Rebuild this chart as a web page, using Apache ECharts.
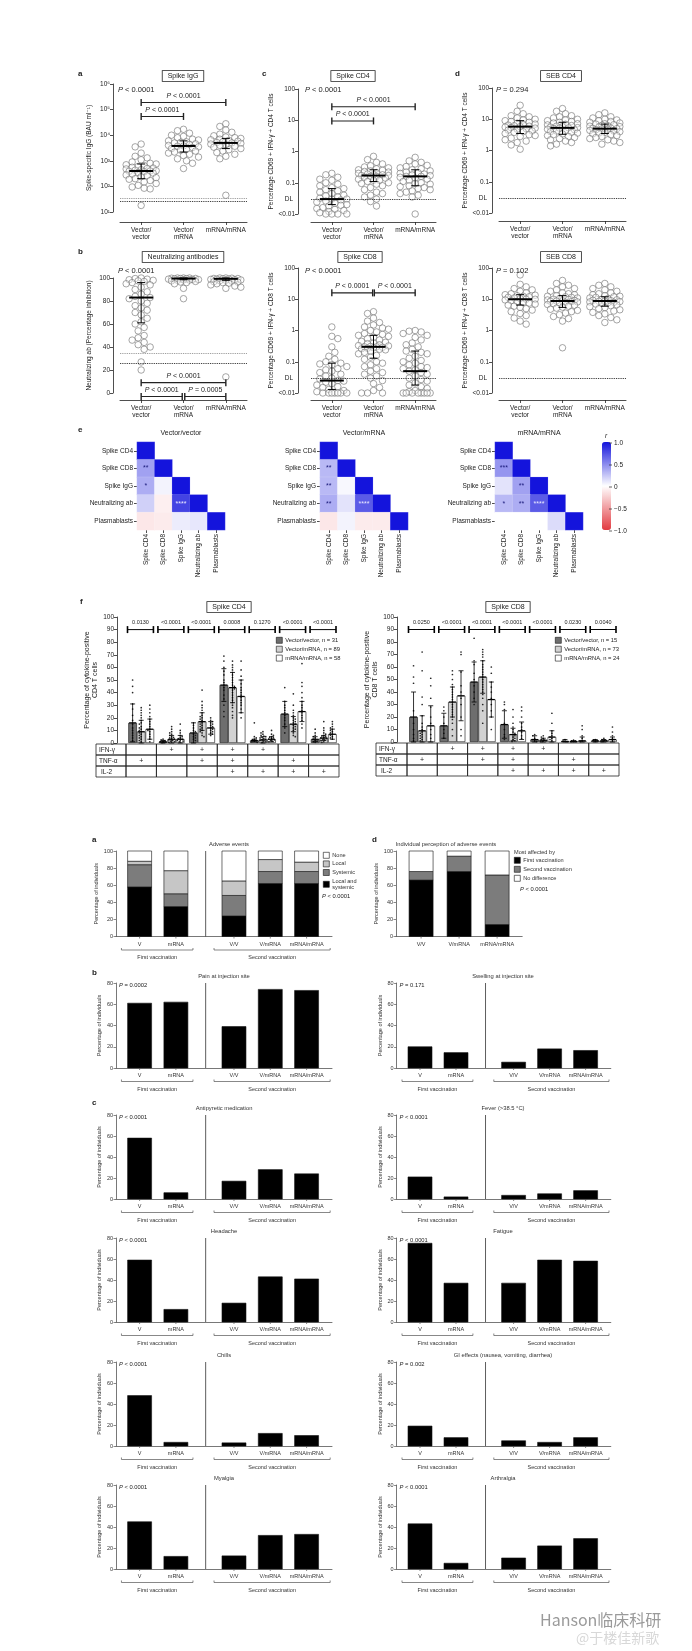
<!DOCTYPE html>
<html><head><meta charset="utf-8">
<script src="https://cdn.jsdelivr.net/npm/echarts/dist/echarts.min.js"></script>
<style>html,body{margin:0;padding:0;background:#fff}#c{width:692px;height:1651px}</style>
</head><body><div id="c"></div>
<script>
// ===================== DATA =====================
const groupLabels = ['Vector/\nvector', 'Vector/\nmRNA', 'mRNA/mRNA'];
// a: Spike IgG (BAU/ml)
const iggVV = [4500,3500,2000,1500,1300,1100,900,800,750,700,650,600,560,520,500,480,450,430,410,400,390,370,350,330,300,280,260,240,220,200,190,170,150,130,110,95,85,80,18];
const iggVM = [17000,15000,12000,10000,9000,8000,7000,6500,6000,5500,5200,5000,4600,4300,4000,3800,3700,3500,3300,3000,2800,2600,2400,2200,2000,1800,1600,1400,1200,1000,800,500];
const iggMM = [28000,22000,16000,13000,11000,9500,8500,8000,7500,7000,6600,6200,5800,5500,5200,5000,4800,4500,4200,4000,3700,3400,3000,2700,2400,2100,1800,1500,1200,45];
const iggStats = [[400,200,750],[3800,2200,6000],[5000,3000,7500]];
// b: Neutralizing antibodies (%)
const nabVV = [100,99.5,99,98.5,98,97.5,97,96,95,94,92,90,88,86,84,83,82,80,78,76,74,72,70,68,65,62,60,57,54,50,48,46,44,42,40,38,27,20];
const nabVM = [100,100,100,99.8,99.6,99.5,99.4,99.2,99,98.8,98.6,98.4,98.2,98,97.5,97,96.5,96,95,91,82];
const nabMM = [100,100,99.8,99.6,99.5,99.3,99.1,99,98.8,98.6,98.3,98,97.6,97.2,96.8,96.4,96,95.5,95,94,93,92,91,14];
const nabStats = [[83,61,96],[99.5,98.5,100],[99.3,98,100]];
// c: Spike CD4 (%)
const cd4VV = [0.2,0.18,0.15,0.13,0.12,0.1,0.09,0.08,0.07,0.065,0.06,0.055,0.05,0.045,0.04,0.038,0.035,0.032,0.03,0.03,0.028,0.026,0.024,0.022,0.02,0.019,0.018,0.016,0.015,0.014,0.013,0.012,0.011,0.01,0.01,0.01,0.01];
const cd4VM = [0.7,0.55,0.45,0.4,0.35,0.32,0.3,0.28,0.26,0.25,0.24,0.23,0.22,0.21,0.2,0.19,0.18,0.18,0.17,0.17,0.16,0.16,0.15,0.14,0.13,0.12,0.12,0.11,0.1,0.095,0.09,0.08,0.07,0.06,0.05,0.045,0.04,0.035,0.03,0.025,0.018];
const cd4MM = [0.65,0.5,0.45,0.4,0.36,0.33,0.3,0.28,0.26,0.24,0.22,0.21,0.2,0.19,0.18,0.17,0.16,0.16,0.15,0.14,0.13,0.12,0.11,0.1,0.095,0.09,0.08,0.075,0.07,0.065,0.06,0.055,0.05,0.045,0.04,0.035,0.01];
const cd4Stats = [[0.03,0.02,0.065],[0.17,0.11,0.26],[0.16,0.08,0.26]];
// d: SEB CD4 (%)
const seb4VV = [28,18,15,13,12,11,10,9.5,9,8.5,8,7.5,7,6.8,6.5,6.2,6,5.8,5.6,5.4,5.2,5,4.8,4.5,4.2,4,3.8,3.5,3.2,3,2.8,2.5,2.2,2,1.8,1.5,1.1];
const seb4VM = [22,18,15,13,12,11,10,9.5,9,8.5,8,7.6,7.2,6.9,6.6,6.3,6,5.8,5.6,5.4,5.3,5.2,5,4.8,4.6,4.4,4.2,4,3.8,3.6,3.4,3.2,3,2.8,2.6,2.4,2.2,2,1.8,1.6,1.4];
const seb4MM = [16,14,12,11,10,9.5,9,8.5,8,7.6,7.2,7,6.7,6.4,6.2,6,5.8,5.6,5.4,5.2,5.1,5,4.9,4.8,4.6,4.4,4.2,4,3.8,3.6,3.4,3.2,3,2.8,2.6,2.4,2.2,2,1.8,1.6];
const seb4Stats = [[5.8,3.5,9],[5.3,3.3,8],[5,3.5,7]];
// Spike CD8 (%)
const cd8VV = [1.3,0.65,0.55,0.3,0.2,0.15,0.12,0.1,0.09,0.085,0.08,0.07,0.06,0.055,0.05,0.045,0.04,0.035,0.03,0.028,0.025,0.024,0.022,0.02,0.018,0.016,0.015,0.013,0.012,0.011,0.01,0.01,0.01,0.01,0.01,0.01,0.01];
const cd8VM = [4,3.5,2.5,2,1.8,1.5,1.3,1.2,1.1,1,0.9,0.8,0.75,0.7,0.65,0.6,0.55,0.5,0.45,0.42,0.4,0.38,0.35,0.33,0.32,0.31,0.3,0.3,0.29,0.28,0.27,0.26,0.25,0.24,0.22,0.2,0.18,0.16,0.14,0.12,0.1,0.09,0.08,0.07,0.06,0.05,0.045,0.04,0.035,0.03,0.025,0.02,0.015,0.012,0.01,0.01,0.01];
const cd8MM = [1,0.95,0.9,0.8,0.7,0.6,0.5,0.4,0.35,0.3,0.25,0.22,0.2,0.18,0.15,0.13,0.11,0.1,0.09,0.08,0.07,0.065,0.06,0.055,0.05,0.045,0.04,0.035,0.03,0.027,0.024,0.021,0.018,0.016,0.014,0.012,0.011,0.01,0.01,0.01,0.01,0.01,0.01,0.01,0.01];
const cd8Stats = [[0.025,0.013,0.09],[0.3,0.13,0.7],[0.05,0.018,0.22]];
// SEB CD8 (%)
const seb8VV = [60,30,25,22,20,18,16,15,14,13.5,13,12.5,12,11.5,11,10.5,10,10,9.5,9,8.5,8,7.5,7,6.5,6,5.5,5,4.5,4,3.5,3,2.5,2,1.6];
const seb8VM = [40,32,28,25,22,20,18,16,15,14,13,12.5,12,11.5,11,10.5,10,9.8,9.5,9.2,9,8.8,8.6,8.4,8.2,8,7.6,7.2,6.8,6.4,6,5.6,5.2,4.8,4.4,4,3.6,3.2,2.8,2.4,2,0.28];
const seb8MM = [32,28,25,22,20,18,16,15,14,13,12.5,12,11.5,11,10.5,10,9.6,9.3,9,8.8,8.6,8.4,8.2,8,7.7,7.4,7,6.6,6.2,5.8,5.4,5,4.6,4.2,3.8,3.4,3,2.6,2.2,1.8];
const seb8Stats = [[10,6.5,14],[8.8,5.5,13],[8.8,6,12]];

// e: correlation heatmaps
const hmLabels = ['Spike CD4','Spike CD8','Spike IgG','Neutralizing ab','Plasmablasts'];
const corrVV = [[1],[0.4,1],[0.35,0.05,1],[0.2,-0.08,0.8,1],[-0.12,-0.1,0.08,0.1,1]];
const starsVV = [[''],['**',''],['*','',''],['','','****',''],['','','','','']];
const corrVM = [[1],[0.3,1],[0.3,0.03,1],[0.35,0.12,0.7,1],[-0.12,0.05,-0.1,-0.1,1]];
const starsVM = [[''],['**',''],['**','',''],['**','','****',''],['','','','','']];
const corrMM = [[1],[0.45,1],[0.12,0.4,1],[0.3,0.35,0.7,1],[0.0,0.0,0.0,0.15,1]];
const starsMM = [[''],['***',''],['','**',''],['*','**','****',''],['','','','','']];
const cbTicks = ['1.0','0.5','0','\u22120.5','\u22121.0'];

// f: cytokine bars (7 cytokine combinations)
const fCats = ['g1','g2','g3','g4','g5','g6','g7'];
const ifnRow = [0,1,1,1,1,0,0];
const tnfRow = [1,0,1,1,0,1,0];
const il2Row = [0,0,0,1,1,1,1];
const cd4Means = [[16,1,8,46,2,23,3],[9,3,17,44,2.5,15,4],[11,3,12,37,3,25,7]];
const cd4Sd    = [[15,1,8,13,1,10,2],[9,3,7,12,2.5,6,2],[8,3,5,13,2,8,4]];
const cd4P = ['0.0130','<0.0001','<0.0001','0.0008','0.1270','<0.0001','<0.0001'];
const cd4Names = ['Vector/vector, n = 31','Vector/mRNA, n = 89','mRNA/mRNA, n = 58'];
const cd8Means = [[20,13,48,14,2,0.5,1],[9,32,52,6,1.5,0.5,1],[13,37,34,9,4,1,2]];
const cd8Sd    = [[20,10,16,11,3,1.5,1],[12,12,13,5,1.5,0.5,1],[16,20,14,7,5,3,2]];
const cd8P = ['0.0250','<0.0001','<0.0001','<0.0001','<0.0001','0.0230','0.0040'];
const cd8Names = ['Vector/vector, n = 15','Vector/mRNA, n = 73','mRNA/mRNA, n = 24'];
// individual points per bar (approximate reading)
const cd4DotsVV = [[50,45,40,31,27,22,18,15,12,10,8,6,4,2],[3,2.5,2,1.5,1,0.8,0.5,0.3],[16,14,12,10,9,7,6,5,4,3,2],[69,65,60,57,54,50,48,46,44,42,38,35,30,25,21],[16,5,4,3,2.5,2,1.5,1,0.5],[44,33,30,28,26,24,22,20,18,15,12,8],[11,8,6,5,4,3,2,1.5,1,0.5]];
const cd4DotsVM = [[28,26,24,22,20,18,16,15,13,12,11,10,9,8,7,6,5,4,3,2,1],[13,11,9,8,7,6,5,4.5,4,3.5,3,2.5,2,1.5,1,0.5],[42,33,30,28,26,24,22,21,20,19,18,17,16,15,14,13,12,11,10,9,8,6,5],[65,62,60,58,56,54,52,50,48,46,45,44,43,42,40,38,36,34,32,30,28,25,22,20],[9,8,7,6,5.5,5,4.5,4,3.5,3,2.5,2,1.5,1,0.5],[39,30,26,24,22,20,19,18,17,16,15,14,13,12,11,10,8,6,5],[17,12,10,8,7,6,5.5,5,4.5,4,3.5,3,2.5,2,1,0.5]];
const cd4DotsMM = [[30,27,24,21,19,17,15,13,11,10,9,7,5,3,1],[15,10,8,6,5,4,3.5,3,2.5,2,1.5,1],[20,18,17,16,15,14,13,12,11,10,9,8,7,6],[65,58,53,50,47,44,42,40,38,36,34,32,30,27,24,20],[10,7,6,5,4.5,4,3.5,3,2.5,2,1.5,1],[63,48,45,40,36,33,30,28,26,25,24,22,20,18,15,12],[17,15,13,12,11,10,9,8,7,6,5,4,3]];
const cd8DotsVV = [[61,52,47,25,15,10,6,3,1],[28,25,20,15,10,7,3],[83,65,62,55,50,45,40,35,30],[32,30,26,15,10,6,4,2],[6,5,3,2,1,0.5],[2,1,0.5,0.3],[2,1.5,1,0.5]];
const cd8DotsVM = [[72,57,36,30,21,15,12,10,8,7,6,5,4,3,2,1],[57,54,50,46,44,42,40,38,36,34,32,30,28,26,24,22,20,18,15,10,5],[74,72,70,68,65,62,60,58,56,54,52,50,48,46,44,42,40,38,35,30,25,15],[26,20,15,12,10,8,7,6,5,4,3,2,1,0.5],[5,4,3,2,1.5,1,0.5,0.3],[1.5,1,0.8,0.5,0.3,0.2],[3,2,1.5,1,0.5,0.3]];
const cd8DotsMM = [[51,45,35,28,20,15,10,6,3],[72,70,56,45,40,35,30,20,10,5],[60,55,48,44,40,35,30,25,20,10],[28,25,20,15,12,10,8,5,3],[23,15,9,7,5,4,3,2,1],[13,10,5,3,1,0.5],[12,8,5,3,2,1]];

// Adverse events
const advCats = ['V','mRNA','V/V','V/mRNA','mRNA/mRNA'];
const advLocSys = [58,35,24,62,62];
const advSys    = [26,15,24,14,14];
const advLocal  = [4,27,17,14,11];
const advNone   = [12,23,35,10,13];
const percCats = ['V/V','V/mRNA','mRNA/mRNA'];
const percFirst  = [66,76,14];
const percSecond = [10,18,58];
const percNoDiff = [24,6,28];
const pain        = [61,62,39,74,73];
const swelling    = [20,14.5,5.5,18,16.5];
const antipyretic = [58,6,17,28,24];
const fever       = [21,2,3.5,5,8];
const headache    = [59,12,18,43,41];
const fatigue     = [75,37,37,59,58];
const chills      = [48,3.5,3,12,10];
const giEffects   = [19,8,5,3.5,8];
const myalgia     = [45,12,12.5,32,33];
const arthralgia  = [43,5.5,10.5,22,29];

// ===================== BUILD =====================
const FONT = '"Liberation Sans", Arial, "DejaVu Sans", sans-serif';
const INK = '#222';
const option = {animation:false, backgroundColor:'#fff', grid:[], xAxis:[], yAxis:[], series:[], graphic:[], legend:[], visualMap:[]};
const G = option.graphic;
function addGrid(l,t,w,h){ return option.grid.push({left:l, top:t, width:w, height:h, outerBoundsMode:'none', containLabel:false}) - 1; }
function txt(x, y, s, o){ G.push({type:'text', x:x, y:y, silent:true, z:100, style:Object.assign({text:s, fontSize:7, fontFamily:FONT, fill:INK, align:'left', verticalAlign:'middle'}, o||{})}); }
function ptxt(x, y, s, size, align){ txt(x, y, s.replace(/^P/, '{i|P}'), {fontSize:size, align:align||'left', rich:{i:{fontStyle:'italic', fontSize:size, fontFamily:FONT, fill:INK}}}); }
function box(x, y, s, size){ txt(x, y, s, {fontSize:size||7, align:'center', borderColor:INK, borderWidth:0.8, padding:[2,5,1,5], backgroundColor:'#fff'}); }
function letter(x, y, s){ txt(x, y, s, {fontSize:8, fontWeight:'bold'}); }
const SUP = {1:'\u00b9',2:'\u00b2',3:'\u00b3',4:'\u2074',5:'\u2075',6:'\u2076'};
const fmtIgG = v => '10' + SUP[Math.round(Math.log10(v))];
const fmtPct = v => ({'-2':'<0.01','-1':'0.1','0':'1','1':'10','2':'100'})[String(Math.round(Math.log10(v)))];

// deterministic beeswarm layout (pixel space)
function swarm(vals, toPx, band, diam, maxHalf){
  const idx = vals.map((v,i)=>i).sort((a,b)=>toPx(vals[a])-toPx(vals[b]));
  const placed = []; const off = new Array(vals.length); const step = diam*0.5;
  idx.forEach((i, n)=>{
    const y = toPx(vals[i]); let best = 0, bestScore = -1, found = false;
    for (let k=0; k*step<=maxHalf && !found; k++){
      const c = k===0 ? [0] : (n%2 ? [-k*step, k*step] : [k*step, -k*step]);
      for (const x of c){
        let minD = Infinity;
        for (const p of placed){ const dy = p.y-y; if (Math.abs(dy) >= diam) continue; const d = Math.hypot(p.x-x, dy); if (d < minD) minD = d; }
        if (minD >= diam){ best = x; found = true; break; }
        if (minD > bestScore){ bestScore = minD; best = x; }
      }
    }
    placed.push({x:best, y:y}); off[i] = best/band;
  });
  return off;
}
const axLine = {show:true, onZero:false, lineStyle:{color:INK, width:0.8}};
const axTick = {show:true, length:3, lineStyle:{color:INK, width:0.8}};

function scatterPanel(c){
  const gi = addGrid(c.left, c.top, c.width, c.height);
  option.xAxis.push({type:'category', gridIndex:gi, data:groupLabels, offset:c.xOff, axisLine:axLine, axisTick:Object.assign({alignWithLabel:true}, axTick), axisLabel:{fontSize:6.5, lineHeight:7.5, margin:4, color:INK, fontFamily:FONT, interval:0}, splitLine:{show:false}});
  const xv = option.xAxis.push({type:'value', gridIndex:gi, min:-0.5, max:2.5, show:false, axisLine:{onZero:false}, splitLine:{show:false}}) - 1;
  const yAx = {gridIndex:gi, offset:c.yOff, min:c.ymin, max:c.ymax, axisLine:axLine, axisTick:axTick, splitLine:{show:false}, minorTick:{show:false},
    axisLabel:{fontSize:6.5, margin:3, color:INK, fontFamily:FONT, formatter:c.fmt||undefined},
    name:c.yName, nameLocation:'middle', nameGap:c.nameGap, nameTextStyle:{fontSize:6.5, color:INK, fontFamily:FONT}};
  if (c.log){ yAx.type='log'; yAx.logBase=10; } else { yAx.type='value'; yAx.interval=c.interval; }
  const ya = option.yAxis.push(yAx) - 1;
  const pxPer = c.log ? c.height/(Math.log10(c.ymax)-Math.log10(c.ymin)) : c.height/(c.ymax-c.ymin);
  const toPx = c.log ? (v => -Math.log10(v)*pxPer) : (v => -v*pxPer);
  const band = c.width/3;
  c.groups.forEach((vals, g)=>{
    const off = swarm(vals, toPx, band, 6, 15);
    const s = {type:'scatter', xAxisIndex:xv, yAxisIndex:ya, symbol:'circle', symbolSize:6.5, silent:true, z:3,
      itemStyle:{color:'rgba(255,255,255,0.55)', borderColor:'#6a6a6a', borderWidth:0.75},
      data: vals.map((v,k)=>[g+off[k], v])};
    if (g===0 && c.hlines){
      s.markLine = {silent:true, symbol:'none', animation:false, data: c.hlines.map(h=>({yAxis:h.v,
        lineStyle:{type:'dotted', color:h.color, width:0.9},
        label:{show:!!h.label, formatter:h.label||'', position:'start', distance:h.dist||3, fontSize:6.5, color:INK, fontFamily:FONT}}))};
    }
    option.series.push(s);
  });
  option.series.push({type:'custom', xAxisIndex:xv, yAxisIndex:ya, z:5, silent:true,
    data: c.stats.map((s,g)=>[g, s[0], s[1], s[2]]),
    renderItem:(p, api)=>{
      const x = api.value(0);
      const m = api.coord([x, api.value(1)]), lo = api.coord([x, api.value(2)]), hi = api.coord([x, api.value(3)]);
      const st = {stroke:'#000', lineWidth:1};
      return {type:'group', children:[
        {type:'line', shape:{x1:m[0]-12, y1:m[1], x2:m[0]+12, y2:m[1]}, style:{stroke:'#000', lineWidth:2}},
        {type:'line', shape:{x1:m[0], y1:lo[1], x2:m[0], y2:hi[1]}, style:st},
        {type:'line', shape:{x1:m[0]-4, y1:lo[1], x2:m[0]+4, y2:lo[1]}, style:st},
        {type:'line', shape:{x1:m[0]-4, y1:hi[1], x2:m[0]+4, y2:hi[1]}, style:st}]};
    }});
  if (c.brackets){
    const labels = c.blabels;
    option.series.push({type:'custom', xAxisIndex:xv, yAxisIndex:ya, z:6, silent:true,
      data: c.brackets,
      renderItem:(p, api)=>{
        const a = api.coord([api.value(0), api.value(2)]), b = api.coord([api.value(1), api.value(2)]);
        const capSt = {stroke:INK, lineWidth:1.4};
        return {type:'group', children:[
          {type:'line', shape:{x1:a[0], y1:a[1], x2:b[0], y2:b[1]}, style:{stroke:INK, lineWidth:1.1}},
          {type:'line', shape:{x1:a[0], y1:a[1]-3.5, x2:a[0], y2:a[1]+3.5}, style:capSt},
          {type:'line', shape:{x1:b[0], y1:b[1]-3.5, x2:b[0], y2:b[1]+3.5}, style:capSt},
          {type:'text', x:(a[0]+b[0])/2, y:a[1]-6.5, style:{text:labels[p.dataIndex].replace(/^P/, '{i|P}'), fontSize:7, fontFamily:FONT, fill:INK, align:'center', verticalAlign:'middle', rich:{i:{fontStyle:'italic', fontSize:7, fontFamily:FONT, fill:INK}}}}]};
      }});
  }
  box(c.boxX, c.boxY, c.title, 7);
  ptxt(c.pX, c.pY, c.pText, 7.5);
}

// --- top scatter panels ---
letter(78, 74, 'a'); letter(262, 74, 'c'); letter(455, 74, 'd'); letter(78, 252, 'b');
scatterPanel({left:120, top:84, width:127, height:128, xOff:10, yOff:7, log:true, ymin:10, ymax:1e6, fmt:fmtIgG,
  yName:'Spike-specific IgG (BAU ml\u207b\u00b9)', nameGap:20, groups:[iggVV, iggVM, iggMM], stats:iggStats,
  brackets:[[0,2,1.9e5],[0,1,5.4e4]], blabels:['P < 0.0001','P < 0.0001'],
  hlines:[{v:35, color:'#888'},{v:26, color:'#111'}], title:'Spike IgG', boxX:183, boxY:76, pText:'P < 0.0001', pX:118, pY:90});
scatterPanel({left:311, top:89, width:125, height:125, xOff:8, yOff:13, log:true, ymin:0.01, ymax:100, fmt:fmtPct,
  yName:'Percentage CD69 + IFN-\u03b3 + CD4 T cells', nameGap:21, groups:[cd4VV, cd4VM, cd4MM], stats:cd4Stats,
  brackets:[[0,2,27],[0,1,9.5]], blabels:['P < 0.0001','P < 0.0001'],
  hlines:[{v:0.032, color:'#111', label:'DL', dist:18}], title:'Spike CD4', boxX:353, boxY:76, pText:'P < 0.0001', pX:305, pY:90});
scatterPanel({left:499, top:88, width:127, height:125, xOff:8, yOff:7, log:true, ymin:0.01, ymax:100, fmt:fmtPct,
  yName:'Percentage CD69 + IFN-\u03b3 + CD4 T cells', nameGap:21, groups:[seb4VV, seb4VM, seb4MM], stats:seb4Stats,
  hlines:[{v:0.032, color:'#111', label:'DL', dist:12}], title:'SEB CD4', boxX:561, boxY:76, pText:'P = 0.294', pX:496, pY:90});
scatterPanel({left:120, top:278, width:127, height:115, xOff:7, yOff:7, log:false, ymin:0, ymax:100, interval:20,
  yName:'Neutralizing ab (Percentage inhibition)', nameGap:20, groups:[nabVV, nabVM, nabMM], stats:nabStats,
  brackets:[[0,2,9],[0,0.97,-3],[1.03,2,-3]], blabels:['P < 0.0001','P < 0.0001','P = 0.0005'],
  hlines:[{v:35, color:'#888'},{v:26, color:'#111'}], title:'Neutralizing antibodies', boxX:183, boxY:257, pText:'P < 0.0001', pX:118, pY:271});
scatterPanel({left:311, top:268, width:125, height:125, xOff:7, yOff:13, log:true, ymin:0.01, ymax:100, fmt:fmtPct,
  yName:'Percentage CD69 + IFN-\u03b3 + CD8 T cells', nameGap:21, groups:[cd8VV, cd8VM, cd8MM], stats:cd8Stats,
  brackets:[[0,0.98,16],[1.02,2,16]], blabels:['P < 0.0001','P < 0.0001'],
  hlines:[{v:0.032, color:'#111', label:'DL', dist:18}], title:'Spike CD8', boxX:360, boxY:257, pText:'P < 0.0001', pX:305, pY:271});
scatterPanel({left:499, top:268, width:127, height:125, xOff:7, yOff:7, log:true, ymin:0.01, ymax:100, fmt:fmtPct,
  yName:'Percentage CD69 + IFN-\u03b3 + CD8 T cells', nameGap:21, groups:[seb8VV, seb8VM, seb8MM], stats:seb8Stats,
  hlines:[{v:0.032, color:'#111', label:'DL', dist:12}], title:'SEB CD8', boxX:561, boxY:257, pText:'P = 0.102', pX:496, pY:271});

// --- e: heatmaps ---
letter(78, 430, 'e');
const hmSeries = [];
function heatmap(left, title, corr, stars){
  const gi = addGrid(left, 442, 88, 88);
  const xa = option.xAxis.push({type:'category', gridIndex:gi, data:hmLabels, axisLine:{show:false, onZero:false}, axisTick:Object.assign({alignWithLabel:true}, axTick),
    axisLabel:{rotate:90, fontSize:6.5, margin:4, color:INK, fontFamily:FONT, interval:0}, splitLine:{show:false}, splitArea:{show:false}}) - 1;
  const ya = option.yAxis.push({type:'category', gridIndex:gi, data:hmLabels, inverse:true, axisLine:{show:false, onZero:false}, axisTick:Object.assign({alignWithLabel:true}, axTick),
    axisLabel:{fontSize:6.5, margin:4, color:INK, fontFamily:FONT, interval:0}, splitLine:{show:false}, splitArea:{show:false}}) - 1;
  const data = [];
  corr.forEach((row, r)=> row.forEach((v, c)=>{
    const s = stars[r][c];
    data.push({value:[c, r, v], label:{show:!!s, formatter:s || ' ', color: v > 0.6 ? '#e8e8ff' : '#1a1a7a', fontSize:7, fontFamily:FONT}});
  }));
  hmSeries.push(option.series.push({type:'heatmap', xAxisIndex:xa, yAxisIndex:ya, data:data, silent:true,
    itemStyle:{borderColor:'rgba(255,255,255,0.35)', borderWidth:0.4}}) - 1);
  txt(left+44, 433, title, {fontSize:7, align:'center'});
}
heatmap(137, 'Vector/vector', corrVV, starsVV);
heatmap(320, 'Vector/mRNA', corrVM, starsVM);
heatmap(495, 'mRNA/mRNA', corrMM, starsMM);
option.visualMap.push({type:'continuous', min:-1, max:1, seriesIndex:hmSeries, left:602, top:442, itemWidth:9, itemHeight:88, padding:0,
  calculable:false, showLabel:false, text:null, inRange:{color:['#e23a40','#ffffff','#1414dc']}, textStyle:{fontSize:1, color:'rgba(0,0,0,0)'}});
cbTicks.forEach((t, i)=>{ txt(614, 443 + i*22, t, {fontSize:6.5}); G.push({type:'line', silent:true, z:100, shape:{x1:609, y1:443+i*22, x2:612, y2:443+i*22}, style:{stroke:INK, lineWidth:0.7}}); });
txt(606, 436, 'r', {fontSize:6.5, fontStyle:'italic', align:'center'});

// --- f: cytokine panels ---
letter(80, 602, 'f');
const legendBase = {orient:'vertical', itemWidth:6, itemHeight:6, icon:'rect', selectedMode:false, padding:0,
  itemStyle:{borderColor:'#111', borderWidth:0.6}};
function fPanel(c){
  const gi = addGrid(c.left, c.top, c.width, c.height);
  const xa = option.xAxis.push({type:'category', gridIndex:gi, data:fCats, axisLine:{show:false, onZero:false}, axisTick:{show:false}, axisLabel:{show:false}, splitLine:{show:false}}) - 1;
  const xv = option.xAxis.push({type:'value', gridIndex:gi, min:-0.5, max:fCats.length-0.5, show:false, axisLine:{onZero:false}, splitLine:{show:false}}) - 1;
  const ya = option.yAxis.push({type:'value', gridIndex:gi, min:0, max:100, interval:10, offset:c.yOff, axisLine:axLine, axisTick:axTick, splitLine:{show:false},
    axisLabel:{fontSize:6.5, margin:3, color:INK, fontFamily:FONT},
    name:c.yName, nameLocation:'middle', nameGap:c.nameGap, nameTextStyle:{fontSize:7, color:INK, fontFamily:FONT, lineHeight:8}}) - 1;
  const cols = ['#6e6e6e','#d2d2d2','#ffffff'];
  const BW = 8.6;
  const band = c.width / fCats.length;
  c.means.forEach((m, s)=>{
    option.series.push({type:'bar', name:c.names[s], xAxisIndex:xa, yAxisIndex:ya, data:m, barWidth:BW, barGap:'0%', silent:true, z:2,
      itemStyle:{color:cols[s], borderColor:'#111', borderWidth:0.6}});
  });
  // individual points on each bar
  const pxPer = c.height/100;
  c.dots.forEach((groups, s)=>{
    const pts = [];
    groups.forEach((vals, i)=>{
      const off = swarm(vals, v => -v*pxPer, band, 1.9, 3.4);
      vals.forEach((v, k)=> pts.push([i + (s-1)*BW/band + off[k], v]));
    });
    option.series.push({type:'scatter', xAxisIndex:xv, yAxisIndex:ya, data:pts, symbol:'circle', symbolSize:1.7, silent:true, z:3,
      itemStyle:{color:'#111', opacity:0.9}});
  });
  const eb = [];
  c.means.forEach((m, s)=> m.forEach((v, i)=> eb.push([i, v, c.sd[s][i], s])));
  option.series.push({type:'custom', xAxisIndex:xa, yAxisIndex:ya, z:4, silent:true, data:eb,
    renderItem:(p, api)=>{
      const i = api.value(0), v = api.value(1), sd = api.value(2), s = api.value(3);
      const ctr = api.coord([i, v]); const x = ctr[0] + (s-1)*BW;
      const hi = api.coord([i, v+sd])[1], lo = api.coord([i, Math.max(0, v-sd)])[1];
      const st = {stroke:'#000', lineWidth:0.8};
      return {type:'group', children:[
        {type:'line', shape:{x1:x, y1:lo, x2:x, y2:hi}, style:st},
        {type:'line', shape:{x1:x-2.5, y1:hi, x2:x+2.5, y2:hi}, style:st},
        {type:'line', shape:{x1:x-2.5, y1:lo, x2:x+2.5, y2:lo}, style:st},
        {type:'line', shape:{x1:x-3.5, y1:ctr[1], x2:x+3.5, y2:ctr[1]}, style:{stroke:'#000', lineWidth:1.1}}]};
    }});
  const pv = c.pvals;
  option.series.push({type:'custom', xAxisIndex:xa, yAxisIndex:ya, z:4, silent:true, data:fCats.map((_, i)=>[i, 90]),
    renderItem:(p, api)=>{
      const ctr = api.coord([api.value(0), api.value(1)]); const bw = api.size([1, 0])[0];
      const x1 = ctr[0]-bw/2+1.5, x2 = ctr[0]+bw/2-3, y = ctr[1];
      const cap = {stroke:'#000', lineWidth:1.6};
      return {type:'group', children:[
        {type:'line', shape:{x1:x1, y1:y, x2:x2, y2:y}, style:{stroke:'#000', lineWidth:1}},
        {type:'line', shape:{x1:x1, y1:y-3.5, x2:x1, y2:y+3.5}, style:cap},
        {type:'line', shape:{x1:x2, y1:y-3.5, x2:x2, y2:y+3.5}, style:cap},
        {type:'text', x:ctr[0]-0.7, y:y-7, style:{text:pv[p.dataIndex], fontSize:5.5, fontFamily:FONT, fill:INK, align:'center', verticalAlign:'middle'}}]};
    }});
  // table
  const RH = 11;
  option.series.push({type:'custom', xAxisIndex:xa, yAxisIndex:ya, z:4, silent:true, data:fCats.map((_, i)=>[i, ifnRow[i], tnfRow[i], il2Row[i]]),
    renderItem:(p, api)=>{
      const ctr = api.coord([api.value(0), 0]); const bw = api.size([1, 0])[0];
      const x0 = ctr[0]-bw/2, y0 = ctr[1]+1; const ch = [];
      for (let r=0; r<3; r++){
        ch.push({type:'rect', shape:{x:x0, y:y0+r*RH, width:bw, height:RH}, style:{fill:'none', stroke:INK, lineWidth:0.8}});
        if (api.value(1+r)) ch.push({type:'text', x:ctr[0], y:y0+r*RH+RH/2+0.5, style:{text:'+', fontSize:7, fontFamily:FONT, fill:INK, align:'center', verticalAlign:'middle'}});
      }
      return {type:'group', children:ch};
    }});
  const y0 = c.top + c.height + 1;
  ['IFN-\u03b3','TNF-\u03b1','IL-2'].forEach((t, r)=>{
    G.push({type:'rect', silent:true, z:50, shape:{x:c.tableLeft, y:y0+r*RH, width:c.left-c.tableLeft, height:RH}, style:{fill:'none', stroke:INK, lineWidth:0.8}});
    txt(c.tableLeft + (r===2 ? 5 : 3), y0+r*RH+RH/2+0.5, t, {fontSize:6.5});
  });
  option.legend.push(Object.assign({}, legendBase, {left:c.legendLeft, top:637, itemGap:2.3,
    data:c.names, textStyle:{fontSize:5.8, fontFamily:FONT, color:INK, lineHeight:6, padding:[0,0,0,-2]}}));
  box(c.boxX, 607, c.title, 7);
}
fPanel({left:126, top:617, width:213, height:126, yOff:9, nameGap:17, yName:'Percentage of cytokine-positive\nCD4 T cells', means:cd4Means, sd:cd4Sd, dots:[cd4DotsVV, cd4DotsVM, cd4DotsMM], pvals:cd4P, names:cd4Names, tableLeft:96, legendLeft:276, title:'Spike CD4', boxX:229});
fPanel({left:407, top:617, width:212, height:125, yOff:10, nameGap:17, yName:'Percentage of cytokine-positive\nCD8 T cells', means:cd8Means, sd:cd8Sd, dots:[cd8DotsVV, cd8DotsVM, cd8DotsMM], pvals:cd8P, names:cd8Names, tableLeft:376, legendLeft:555, title:'Spike CD8', boxX:508});

// --- adverse events bar charts ---
const ADV_POS = [0, 1, 2.6, 3.6, 4.6];
const ADV_BR = [[-0.5, 1.47, 'First vaccination'], [2.05, 5.25, 'Second vaccination']];
const GRAY = '#555';
const BARW = 24;
function advChart(c){
  const gi = addGrid(c.left, c.top, c.width, c.height);
  const xa = option.xAxis.push({type:'value', gridIndex:gi, min:c.xmin, max:c.xmax, axisLine:{show:true, onZero:false, lineStyle:{color:GRAY, width:0.8}}, axisTick:{show:false}, axisLabel:{show:false}, splitLine:{show:false}}) - 1;
  const ya = option.yAxis.push({type:'value', gridIndex:gi, min:0, max:c.ymax, interval:20, axisLine:{show:true, onZero:false, lineStyle:{color:GRAY, width:0.8}},
    axisTick:{show:true, length:2.5, lineStyle:{color:GRAY, width:0.7}}, splitLine:{show:false},
    axisLabel:{fontSize:5.5, margin:3, color:'#333', fontFamily:FONT},
    name:'Percentage of individuals', nameLocation:'middle', nameGap:13, nameTextStyle:{fontSize:5.5, color:'#333', fontFamily:FONT}}) - 1;
  // stacked layers (bottom to top), drawn through the axes' scales
  const cum = c.pos.map(()=>0);
  c.series.forEach((L)=>{
    const d = c.pos.map((p, i)=>{ const b = cum[i]; cum[i] += L.data[i]; return [p, b, cum[i]]; });
    const col = L.color;
    option.series.push({type:'custom', name:L.name, xAxisIndex:xa, yAxisIndex:ya, silent:true, z:2, data:d,
      itemStyle:{color:col, borderColor:'#111', borderWidth:0.6},
      renderItem:(p, api)=>{
        const a = api.coord([api.value(0), api.value(1)]), b = api.coord([api.value(0), api.value(2)]);
        return {type:'rect', shape:{x:a[0]-BARW/2, y:b[1], width:BARW, height:a[1]-b[1]}, style:{fill:col, stroke:'#111', lineWidth:0.6}};
      }});
  });
  if (c.sep != null){
    const ym = c.ymax;
    option.series.push({type:'custom', xAxisIndex:xa, yAxisIndex:ya, silent:true, z:3, data:[[c.sep]],
      renderItem:(p, api)=>{ const a = api.coord([api.value(0), 0]), b = api.coord([api.value(0), ym]);
        return {type:'line', shape:{x1:a[0], y1:a[1], x2:b[0], y2:b[1]}, style:{stroke:'#333', lineWidth:0.8}}; }});
  }
  const cats = c.cats;
  option.series.push({type:'custom', xAxisIndex:xa, yAxisIndex:ya, silent:true, z:5, data:c.pos.map(p=>[p, 0]),
    renderItem:(p, api)=>{
      const pt = api.coord([api.value(0), 0]);
      return {type:'group', children:[
        {type:'line', shape:{x1:pt[0], y1:pt[1], x2:pt[0], y2:pt[1]+2}, style:{stroke:GRAY, lineWidth:0.7}},
        {type:'text', x:pt[0], y:pt[1]+7.5, style:{text:cats[p.dataIndex], fontSize:5.5, fontFamily:FONT, fill:'#333', align:'center', verticalAlign:'middle'}}]};
    }});
  if (c.brackets){
    const br = c.brackets;
    option.series.push({type:'custom', xAxisIndex:xa, yAxisIndex:ya, silent:true, z:5, data:br.map(b=>[b[0], b[1]]),
      renderItem:(p, api)=>{
        const a = api.coord([api.value(0), 0]), b = api.coord([api.value(1), 0]); const y = a[1] + 13.5;
        const st = {stroke:GRAY, lineWidth:0.7};
        return {type:'group', children:[
          {type:'line', shape:{x1:a[0], y1:y, x2:b[0], y2:y}, style:st},
          {type:'line', shape:{x1:a[0], y1:y, x2:a[0], y2:y-2}, style:st},
          {type:'line', shape:{x1:b[0], y1:y, x2:b[0], y2:y-2}, style:st},
          {type:'text', x:(a[0]+b[0])/2, y:y+7.5, style:{text:br[p.dataIndex][2], fontSize:5.5, fontFamily:FONT, fill:'#333', align:'center', verticalAlign:'middle'}}]};
      }});
  }
  txt(c.titleX, c.top - 7, c.title, {fontSize:5.8, align:'center', fill:'#333'});
  if (c.pText) ptxt(c.pX != null ? c.pX : c.left + 3, c.pY != null ? c.pY : c.top + 2.5, c.pText, 5.8);
}
const LEFT = {left:116, width:216, xmin:-0.65, xmax:5.3, titleX:224};
const RIGHT = {left:396.6, width:214.2, xmin:-0.65, xmax:5.3, titleX:503};

letter(92, 840, 'a'); letter(372, 840, 'd'); letter(92, 973, 'b'); letter(92, 1103, 'c');
advChart(Object.assign({}, LEFT, {top:851, height:85.5, ymax:100, sep:1.82, pos:ADV_POS, cats:advCats, brackets:ADV_BR,
  series:[{name:'Local and systemic', data:advLocSys, color:'#000'},{name:'Systemic', data:advSys, color:'#7c7c7c'},{name:'Local', data:advLocal, color:'#c6c6c6'},{name:'None', data:advNone, color:'#fff'}],
  title:'Adverse events', titleX:229, pText:'P < 0.0001', pX:322, pY:896}));
option.legend.push(Object.assign({}, legendBase, {left:323, top:852, itemGap:2,
  data:['None','Local','Systemic','Local and systemic'], formatter:n=> n==='Local and systemic' ? 'Local and\nsystemic' : n,
  textStyle:{fontSize:5.6, fontFamily:FONT, color:'#333', lineHeight:6.5, padding:[0,0,0,-2]}}));
advChart({left:396, width:126.2, xmin:-0.66, xmax:2.66, top:851, height:85.5, ymax:100, pos:[0,1,2], cats:percCats,
  series:[{name:'First vaccination', data:percFirst, color:'#000'},{name:'Second vaccination', data:percSecond, color:'#7c7c7c'},{name:'No difference', data:percNoDiff, color:'#fff'}],
  title:'Individual perception of adverse events', titleX:446, pText:'P < 0.0001', pX:520, pY:889});
txt(514, 852, 'Most affected by', {fontSize:5.6, fill:'#333'});
option.legend.push(Object.assign({}, legendBase, {left:514, top:857, itemGap:2.4,
  data:['First vaccination','Second vaccination','No difference'], textStyle:{fontSize:5.6, fontFamily:FONT, color:'#333', lineHeight:6, padding:[0,0,0,-2]}}));

const symptomRows = [
  {top:983, height:85, L:['Pain at injection site', pain, 'P = 0.0002'], R:['Swelling at injection site', swelling, 'P = 0.171']},
  {top:1115, height:84, L:['Antipyretic medication', antipyretic, 'P < 0.0001'], R:['Fever (>38.5 \u00b0C)', fever, 'P < 0.0001']},
  {top:1238, height:84, L:['Headache', headache, 'P < 0.0001'], R:['Fatigue', fatigue, 'P < 0.0001']},
  {top:1362, height:84, L:['Chills', chills, 'P < 0.0001'], R:['GI effects (nausea, vomiting, diarrhea)', giEffects, 'P = 0.002']},
  {top:1485, height:84, L:['Myalgia', myalgia, 'P < 0.0001'], R:['Arthralgia', arthralgia, 'P < 0.0001']}
];
symptomRows.forEach(row=>{
  [['L', LEFT], ['R', RIGHT]].forEach(([k, side])=>{
    const d = row[k];
    advChart(Object.assign({}, side, {top:row.top, height:row.height, ymax:80, sep:1.82, pos:ADV_POS, cats:advCats, brackets:ADV_BR,
      series:[{name:d[0], data:d[1], color:'#000'}], title:d[0], pText:d[2]}));
  });
});

// watermark
txt(540, 1620, 'Hanson\u4e34\u5e8a\u79d1\u7814', {fontSize:16, fill:'#9a9a9a', fontFamily:'"Noto Sans CJK SC", "DejaVu Sans", sans-serif'});
txt(576, 1638, '@\u4e8e\u697c\u4f73\u65b0\u6b4c', {fontSize:14, fill:'#d8d8d8', fontFamily:'"Noto Sans CJK SC", "DejaVu Sans", sans-serif'});

const chart = echarts.init(document.getElementById('c'), null, {renderer:'canvas', width:692, height:1651});
chart.setOption(option);
</script></body></html>
